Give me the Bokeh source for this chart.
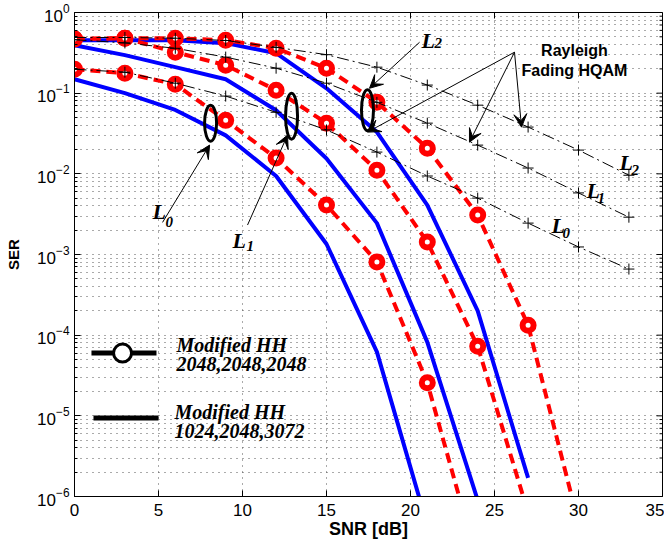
from bokeh.plotting import figure
from bokeh.models import FixedTicker, Arrow, VeeHead, Label
from bokeh.embed import file_html
from bokeh.resources import INLINE
import math

# ---------------- data ----------------
snr_ray = [0, 3, 6, 9, 12, 15, 18, 21, 24, 27, 30, 33]
ray_L2 = [0.49, 0.49, 0.48, 0.45, 0.37, 0.30, 0.21, 0.126, 0.071, 0.038, 0.0197, 0.0096]
ray_L1 = [0.46, 0.42, 0.36, 0.28, 0.204, 0.133, 0.077, 0.0425, 0.0227, 0.0118, 0.0058, 0.0029]
ray_L0 = [0.198, 0.182, 0.133, 0.092, 0.058, 0.035, 0.0186, 0.0094, 0.0050, 0.00245, 0.00124, 0.00066]

snr_hh_L0 = [0, 3, 6, 9, 12, 15, 18, 21, 24]
hh2048_L0 = [0.198, 0.177, 0.129, 0.046, 0.0157, 0.0041, 0.00081, 2.57e-5, 1.5e-7]
snr_hh_L1 = [0, 3, 6, 9, 12, 15, 18, 21, 24, 27]
hh2048_L1 = [0.47, 0.48, 0.322, 0.222, 0.109, 0.0425, 0.0111, 0.00143, 7.3e-5, 6.3e-7]
snr_hh_L2 = [0, 3, 6, 9, 12, 15, 18, 21, 24, 27, 30]
hh2048_L2 = [0.47, 0.48, 0.48, 0.454, 0.361, 0.204, 0.0774, 0.0208, 0.00308, 1.33e-4, 4.7e-7]

snr_b_L0 = [0, 3, 6, 9, 12, 15, 18, 21]
hh1024_L0 = [0.149, 0.10, 0.062, 0.030, 0.0094, 0.00135, 6.2e-5, 4.4e-7]
snr_b_L1 = [0, 3, 6, 9, 12, 15, 18, 21, 24]
hh1024_L1 = [0.393, 0.296, 0.21, 0.149, 0.0615, 0.0155, 0.00245, 8.2e-5, 9e-7]
snr_b_L2 = [0, 3, 6, 9, 12, 15, 18, 21, 24, 27]
hh1024_L2 = [0.454, 0.454, 0.454, 0.417, 0.313, 0.115, 0.0329, 0.0041, 2.0e-4, 1.7e-6]

x_ticks = [0, 5, 10, 15, 20, 25, 30, 35]
y_ticks = [1e-6, 1e-5, 1e-4, 1e-3, 1e-2, 1e-1, 1e0]
y_minor = [k * 10.0 ** d for d in range(-6, 0) for k in range(2, 10)]

legend_labels = [("Modified HH", "2048,2048,2048"), ("Modified HH", "1024,2048,3072")]

X_MIN, X_MAX = 0, 35
Y_MIN, Y_MAX = 1e-6, 1

# ---------------- figure ----------------
SANS = "Liberation Sans"
SERIF = "Liberation Serif"

p = figure(frame_width=588, frame_height=484, x_range=(X_MIN, X_MAX), y_range=(Y_MIN, Y_MAX),
           y_axis_type="log", output_backend="svg", toolbar_location=None,
           min_border_left=74, min_border_right=2, min_border_top=12, min_border_bottom=30,
           background_fill_color="white", border_fill_color="white")
p.outline_line_color = "black"
p.outline_line_width = 1

for ax in (p.xaxis, p.yaxis):
    ax.major_tick_in = 6
    ax.major_tick_out = 0
    ax.minor_tick_in = 3
    ax.minor_tick_out = 0
    ax.axis_line_color = "black"
    ax.major_label_text_font = SANS
    ax.major_label_text_font_size = "17px"
    ax.major_label_text_color = "black"
    ax.axis_label_text_font = SANS
    ax.axis_label_text_font_style = "bold"
    ax.axis_label_text_color = "black"

p.xaxis.ticker = FixedTicker(ticks=x_ticks)
p.yaxis.ticker = FixedTicker(ticks=y_ticks, minor_ticks=y_minor)
p.xaxis.axis_label = "SNR [dB]"
p.yaxis.axis_label = "SER"
p.xaxis.axis_label_text_font_size = "18px"
p.yaxis.axis_label_text_font_size = "15px"
p.xaxis.major_label_standoff = 7
p.xaxis.axis_label_standoff = 0
p.yaxis.major_label_standoff = 5
p.yaxis.axis_label_standoff = 12

for g in (p.xgrid, p.ygrid):
    g.grid_line_color = "#555555"
    g.grid_line_dash = "1 5"
    g.grid_line_width = 1
p.ygrid.minor_grid_line_color = "#555555"
p.ygrid.minor_grid_line_dash = "1 5"

# inward ticks on the top and right edges (box style), clipped by the frame
p.scatter([X_MAX] * len(y_ticks), y_ticks, marker="dash", size=12, line_color="black", line_width=1)
p.scatter([X_MAX] * len(y_minor), y_minor, marker="dash", size=6, line_color="black", line_width=1)
p.scatter(x_ticks, [Y_MAX] * len(x_ticks), marker="dash", angle=math.pi / 2, size=12,
          line_color="black", line_width=1)

# ---------------- curves ----------------
BLUE = "#0000ff"
RED = "#ff0000"
for xs, ys in ((snr_b_L0, hh1024_L0), (snr_b_L1, hh1024_L1), (snr_b_L2, hh1024_L2)):
    p.line(xs, ys, line_color=BLUE, line_width=4)

for xs, ys in ((snr_hh_L0, hh2048_L0), (snr_hh_L1, hh2048_L1), (snr_hh_L2, hh2048_L2)):
    p.line(xs, ys, line_color=RED, line_width=4, line_dash="10 6")
    p.scatter(xs, ys, marker="circle", size=11, line_color=RED, line_width=6, fill_color="white")

for ys in (ray_L0, ray_L1, ray_L2):
    p.line(snr_ray, ys, line_color="black", line_width=1, line_dash="12 4 2 4")
    p.scatter(snr_ray, ys, marker="cross", size=11, line_color="black", line_width=1)

# ---------------- annotations ----------------
p.ellipse(x=[8.1, 12.92, 17.44], y=[0.0425, 0.0519, 0.0616], width=12, height=[36, 46, 41],
          width_units="screen", height_units="screen", fill_color=None,
          line_color="black", line_width=3)

arrows = [
    (5.24, 0.0025, 8.04, 0.0227),
    (10.3, 0.00232, 12.68, 0.0302),
    (20.54, 0.428, 17.56, 0.115),
    (26.19, 0.322, 17.44, 0.0329),
    (26.19, 0.322, 23.51, 0.0247),
    (26.19, 0.322, 26.61, 0.0379),
]
for xs_, ys_, xe, ye in arrows:
    p.add_layout(Arrow(end=VeeHead(size=13, fill_color="black", line_color="black"),
                       x_start=xs_, y_start=ys_, x_end=xe, y_end=ye,
                       line_color="black", line_width=1))

def lab(x, y, txt, size, font=SERIF, style="bold italic", align="left"):
    p.add_layout(Label(x=x, y=y, text=txt, text_font=font, text_font_style=style,
                       text_font_size=size, text_color="black", text_align=align,
                       text_baseline="alphabetic"))

l_labels = [
    (4.64, 0.00345, 5.42, 0.00252, "0"),
    (9.40, 0.00151, 10.24, 0.00127, "1"),
    (20.65, 0.454, 21.43, 0.417, "2"),
    (32.44, 0.01396, 33.15, 0.0111, "2"),
    (30.48, 0.00628, 31.13, 0.0050, "1"),
    (28.39, 0.00231, 29.05, 0.00184, "0"),
]
for lx, ly, sx, sy, s in l_labels:
    lab(lx, ly, "L", "22px")
    lab(sx, sy, s, "15px")

lab(29.76, 0.341, "Rayleigh", "16px", font=SANS, style="bold", align="center")
lab(29.76, 0.193, "Fading HQAM", "16px", font=SANS, style="bold", align="center")

# custom legend
p.line([1.01, 4.88], [6.0e-5, 6.0e-5], line_color="black", line_width=5)
p.scatter([2.86], [6.0e-5], marker="circle", size=18, line_color="black", line_width=3, fill_color="white")
p.line([1.13, 5.0], [9.4e-6, 9.4e-6], line_color="black", line_width=5)
lab(6.07, 7.53e-5, legend_labels[0][0], "20px")
lab(6.07, 4.4e-5, legend_labels[0][1], "20px")
lab(5.95, 1.11e-5, legend_labels[1][0], "20px")
lab(5.95, 6.5e-6, legend_labels[1][1], "20px")

open("out.html", "w").write(file_html(p, INLINE))
